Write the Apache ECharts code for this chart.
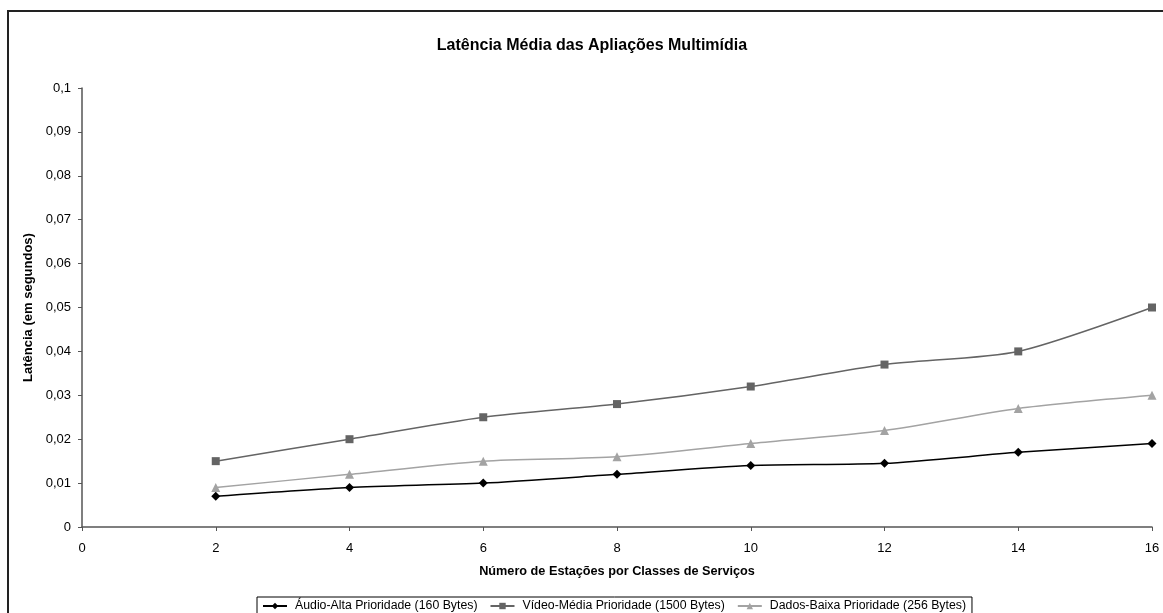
<!DOCTYPE html>
<html>
<head>
<meta charset="utf-8">
<script src="https://cdn.jsdelivr.net/npm/echarts@6/dist/echarts.min.js"></script>
<style>
  html, body { margin: 0; padding: 0; background: #fff; }
  #chart { width: 1163px; height: 613px; }
</style>
</head>
<body>
<div id="chart"></div>
<script>
// Number of stations per service class
const estacoes = [2, 4, 6, 8, 10, 12, 14, 16];

// Mean latency (seconds) per application class
const audioAlta = [0.007, 0.009, 0.010, 0.012, 0.014, 0.0145, 0.017, 0.019];
const videoMedia = [0.015, 0.020, 0.025, 0.028, 0.032, 0.037, 0.040, 0.050];
const dadosBaixa = [0.009, 0.012, 0.015, 0.016, 0.019, 0.022, 0.027, 0.030];

const seriesNames = [
  'Áudio-Alta Prioridade (160 Bytes)',
  'Vídeo-Média Prioridade (1500 Bytes)',
  'Dados-Baixa Prioridade (256 Bytes)'
];

const pairs = (ys) => estacoes.map((x, i) => [x, ys[i]]);
const fmtComma = (v) => String(Math.round(v * 1000) / 1000).replace('.', ',');

const font = 'Liberation Sans, Arial, sans-serif';
const chart = echarts.init(document.getElementById('chart'), null, { renderer: 'canvas' });

function lineSeries(name, ys, color, symbol, size) {
  return {
    name: name,
    type: 'line',
    data: pairs(ys),
    smooth: 0.25,
    symbol: symbol,
    symbolSize: size,
    showAllSymbol: true,
    lineStyle: { color: color, width: 1.5 },
    itemStyle: { color: color },
    emphasis: { disabled: true },
    animation: false
  };
}

chart.setOption({
  backgroundColor: '#fff',
  animation: false,
  textStyle: { fontFamily: font },
  graphic: [{
    type: 'rect',
    shape: { x: 8, y: 11, width: 1170, height: 620 },
    style: { fill: 'none', stroke: '#222', lineWidth: 2 },
    silent: true
  }],
  title: {
    text: 'Latência Média das Apliações Multimídia',
    left: 587,
    textAlign: 'center',
    top: 33,
    textStyle: { fontSize: 16, fontWeight: 'bold', color: '#000', fontFamily: font }
  },
  legend: {
    left: 257,
    top: 597,
    orient: 'horizontal',
    itemWidth: 24,
    itemHeight: 8,
    itemGap: 12,
    padding: [3, 6, 6, 5],
    borderColor: '#000',
    borderWidth: 1,
    textStyle: { fontSize: 12.3, color: '#000', fontFamily: font, padding: [0, 0, 0, 3] },
    data: seriesNames
  },
  grid: { left: 82, top: 88, right: 11, bottom: 86, containLabel: false },
  xAxis: {
    type: 'value',
    min: 0,
    max: 16,
    interval: 2,
    name: 'Número de Estações por Classes de Serviços',
    nameLocation: 'middle',
    nameGap: 38,
    nameTextStyle: { fontSize: 12.7, fontWeight: 'bold', color: '#000', fontFamily: font },
    axisLine: { lineStyle: { color: '#555', width: 1.5 } },
    axisTick: { show: true, length: 4, lineStyle: { color: '#555' } },
    axisLabel: { fontSize: 13, color: '#000', margin: 15, fontFamily: font },
    splitLine: { show: false }
  },
  yAxis: {
    type: 'value',
    min: 0,
    max: 0.1,
    interval: 0.01,
    name: 'Latência (em segundos)',
    nameLocation: 'middle',
    nameGap: 42,
    nameTextStyle: { fontSize: 13, fontWeight: 'bold', color: '#000', fontFamily: font },
    axisLine: { show: true, lineStyle: { color: '#555', width: 1.5 } },
    axisTick: { show: true, length: 4, lineStyle: { color: '#555' } },
    axisLabel: { fontSize: 13, color: '#000', margin: 11, fontFamily: font, formatter: fmtComma },
    splitLine: { show: false }
  },
  series: [
    lineSeries(seriesNames[0], audioAlta, '#000000', 'diamond', 9),
    lineSeries(seriesNames[1], videoMedia, '#646464', 'rect', 8),
    lineSeries(seriesNames[2], dadosBaixa, '#a3a3a3', 'triangle', 9)
  ]
});
</script>
</body>
</html>
